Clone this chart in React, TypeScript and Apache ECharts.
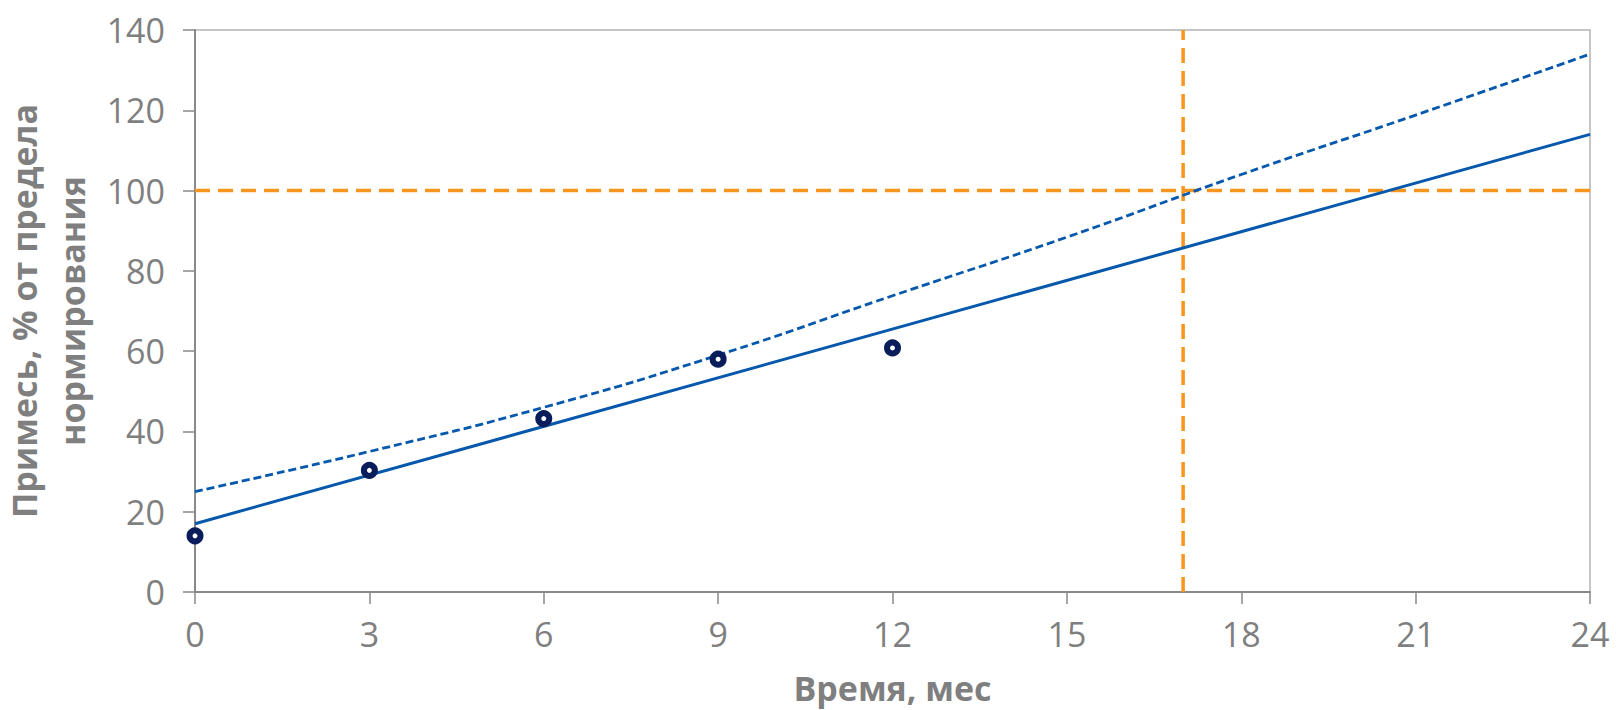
import React, { useEffect, useRef } from "react";
import * as echarts from "echarts";

const monthTicks = [0, 3, 6, 9, 12, 15, 18, 21, 24];
const measuredX = [0, 3, 6, 9, 12];
const measuredY = [14, 30.3, 43.2, 58, 60.8];
const trendX = [0, 24];
const trendY = [17, 114];
const upperX = [0, 3, 6, 9, 12, 15, 18, 21, 24];
const upperY = [25, 35, 46, 59, 73.8, 88.4, 104, 118.8, 134];
const limitValue = 100;
const shelfLifeMonth = 17;

const GRAY = "#7f7f7f";
const FONT = "'Open Sans', 'DejaVu Sans', sans-serif";

export default function App() {
  const ref = useRef<HTMLDivElement>(null);
  useEffect(() => {
    if (!ref.current) return;
    const chart = echarts.init(ref.current, undefined, { renderer: "svg" });
    chart.setOption({
      animation: false,
      backgroundColor: "#ffffff",
      grid: {
        left: 195,
        right: 26,
        top: 30,
        bottom: 118,
        containLabel: false,
        outerBoundsMode: "none",
        show: true,
        borderColor: "#b4b4b4",
        borderWidth: 1.5,
        backgroundColor: "transparent",
      },
      xAxis: {
        type: "value",
        min: 0,
        max: 24,
        interval: 3,
        name: "Время, мес",
        nameLocation: "middle",
        nameGap: 78,
        nameTextStyle: {
          color: GRAY,
          fontSize: 34,
          fontWeight: "bold",
          fontFamily: FONT,
          lineHeight: 36,
        },
        axisLine: { show: true, lineStyle: { color: "#898989", width: 2 } },
        axisTick: { show: true, length: 12, lineStyle: { color: "#898989", width: 1.5 } },
        axisLabel: {
          color: GRAY,
          fontSize: 34,
          fontFamily: FONT,
          margin: 25,
          formatter: (v: number) => (monthTicks.includes(v) ? String(v) : ""),
        },
        splitLine: { show: false },
      },
      yAxis: {
        type: "value",
        min: 0,
        max: 140,
        interval: 20,
        name: "Примесь, % от предела\nнормирования",
        nameLocation: "middle",
        nameRotate: 90,
        nameGap: 92,
        nameTextStyle: {
          color: GRAY,
          fontSize: 34,
          fontWeight: "bold",
          fontFamily: FONT,
          lineHeight: 48,
        },
        axisLine: { show: true, lineStyle: { color: "#898989", width: 2 } },
        axisTick: { show: true, length: 12, lineStyle: { color: "#898989", width: 1.5 } },
        axisLabel: { color: GRAY, fontSize: 34, fontFamily: FONT, margin: 30 },
        splitLine: { show: false },
      },
      series: [
        {
          type: "line",
          data: [
            [0, limitValue],
            [24, limitValue],
          ],
          symbol: "none",
          silent: true,
          lineStyle: { color: "#f7961e", width: 3.5, type: [15, 8] },
          z: 1,
        },
        {
          type: "line",
          data: [
            [shelfLifeMonth, 0],
            [shelfLifeMonth, 140],
          ],
          symbol: "none",
          silent: true,
          lineStyle: { color: "#f7961e", width: 3.5, type: [15, 8] },
          z: 1,
        },
        {
          type: "line",
          data: upperX.map((x, i) => [x, upperY[i]]),
          symbol: "none",
          smooth: true,
          lineStyle: { color: "#0558ab", width: 2.8, type: [8, 4] },
          z: 2,
        },
        {
          type: "line",
          data: trendX.map((x, i) => [x, trendY[i]]),
          symbol: "none",
          lineStyle: { color: "#0558ab", width: 3 },
          z: 3,
        },
        {
          type: "scatter",
          data: measuredX.map((x, i) => [x, measuredY[i]]),
          symbol: "circle",
          symbolSize: 11,
          itemStyle: { color: "#ffffff", borderColor: "#081d5a", borderWidth: 6, opacity: 1 },
          z: 5,
        },
      ],
    });
    return () => chart.dispose();
  }, []);
  return (
    <div
      ref={ref}
      style={{ position: "fixed", left: 0, top: 0, width: 1616, height: 710, background: "#fff" }}
    />
  );
}
